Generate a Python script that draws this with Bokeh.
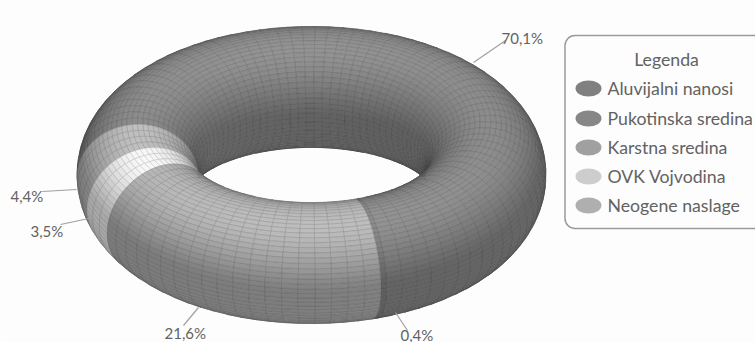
import numpy as np
from bokeh.core.properties import value
from bokeh.embed import file_html
from bokeh.models import BoxAnnotation, ColumnDataSource
from bokeh.plotting import figure
from bokeh.resources import INLINE

# Groundwater source shares, in drawing order (clockwise)
categories = ["Aluvijalni nanosi", "Pukotinska sredina", "Karstna sredina", "OVK Vojvodina", "Neogene naslage"]
shares = [70.1, 0.4, 21.6, 3.5, 4.4]
share_labels = ["70,1%", "0,4%", "21,6%", "3,5%", "4,4%"]
base_grey = [128, 122, 165, 225, 175]
legend_grey = [128, 135, 160, 205, 175]

FONT = "Lato"
TEXT = "#626262"

# Torus geometry and view
R, r = 174.0, 60.5
TILT = np.radians(30.4)
CX, CY = 311.0, 174.5
START = 269.0
MAJOR_STEP = 4.0
MINOR = 72


def project(theta, phi):
    rad = R + r * np.cos(phi)
    x = rad * np.sin(theta)
    y = rad * np.cos(theta)
    z = r * np.sin(phi)
    up = y * np.sin(TILT) + z * np.cos(TILT)
    depth = -y * np.cos(TILT) + z * np.sin(TILT)
    return CX + x, CY - up, depth


def shade(theta, phi):
    nx, ny, nz = np.cos(phi) * np.sin(theta), np.cos(phi) * np.cos(theta), np.sin(phi)
    toward = -ny * np.cos(TILT) + nz * np.sin(TILT)
    lit = max(-0.35 * ny + 0.94 * nz, 0.4)
    edge = 0.9 + 0.1 * np.clip(toward / 0.3, 0, 1)
    return (0.70 + 0.45 * lit ** 2 + 0.03 * nx) * edge


def grey(level):
    g = int(np.clip(level, 0, 255))
    return f"#{g:02x}{g:02x}{g:02x}"


faces = []
pct_edges = np.cumsum([0.0] + shares) / sum(shares) * 360.0 + START
phis = np.linspace(0, 2 * np.pi, MINOR + 1)
for i, base in enumerate(base_grey):
    a0, a1 = pct_edges[i], pct_edges[i + 1]
    steps = max(1, int(round((a1 - a0) / MAJOR_STEP)))
    thetas = np.radians(np.linspace(a0, a1, steps + 1))
    for t0, t1 in zip(thetas[:-1], thetas[1:]):
        for p0, p1 in zip(phis[:-1], phis[1:]):
            xs, ys, ds = project(np.array([t0, t1, t1, t0]), np.array([p0, p0, p1, p1]))
            area = 0.5 * np.sum(xs * np.roll(ys, -1) - np.roll(xs, -1) * ys)
            if area <= 0:
                continue
            level = base * shade((t0 + t1) / 2, (p0 + p1) / 2)
            faces.append((ds.mean(), list(xs), list(ys), grey(level), grey(level * 0.78)))
faces.sort(key=lambda f: f[0])

p = figure(width=755, height=342, x_range=(0, 755), y_range=(342, 0),
           output_backend="svg", toolbar_location=None, min_border=0,
           background_fill_color="#fdfdfd", border_fill_color="#fdfdfd", outline_line_color=None)
p.axis.visible = False
p.grid.visible = False

mesh = ColumnDataSource(dict(xs=[f[1] for f in faces], ys=[f[2] for f in faces],
                             fill=[f[3] for f in faces], edge=[f[4] for f in faces]))
p.patches("xs", "ys", source=mesh, fill_color="fill", line_color="edge", line_width=0.5)

# Leader lines and share labels
leaders = [((473, 62), (505, 40)), ((395, 312), (407, 330)), ((198, 307), (183, 325)),
           ((93, 217), (60, 224)), ((76, 189), (42, 191))]
label_pos = [(501, 37), (400, 334), (164, 332), (30, 230), (10, 195)]
for (a, b) in leaders:
    p.line([a[0], b[0]], [a[1], b[1]], line_color="#a0a0a0", line_width=1.2)
p.text([q[0] for q in label_pos], [q[1] for q in label_pos], text=share_labels,
       text_font=value(FONT), text_font_size="15px", text_color=TEXT,
       text_align="left", text_baseline="middle")

# Legend box, running off the right edge of the page
p.add_layout(BoxAnnotation(left=564.5, right=790, top=35, bottom=228, fill_color=None,
                           line_color="#9a9a9a", line_alpha=1, line_width=1.5, border_radius=10))
rows = [88, 118, 147, 176, 205]
p.ellipse([588] * 5, rows, width=26, height=16, fill_color=[grey(g) for g in legend_grey], line_color=None)
p.text([607] * 5, rows, text=categories, text_font=value(FONT), text_font_size="17.7px",
       text_color=TEXT, text_align="left", text_baseline="middle")
p.text([666], [59], text=["Legenda"], text_font=value(FONT), text_font_size="17.7px",
       text_color=TEXT, text_align="center", text_baseline="middle")

open("out.html", "w").write(file_html(p, INLINE))
